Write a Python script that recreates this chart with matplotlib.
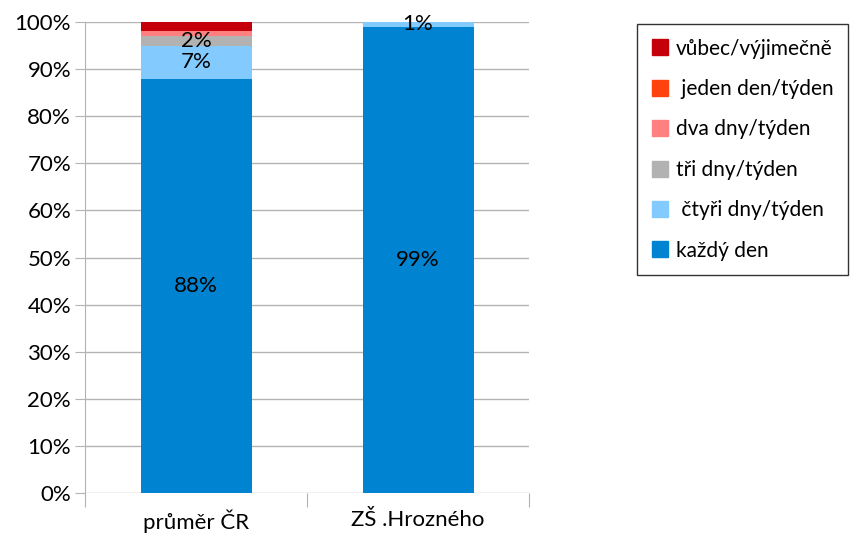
import numpy as np
import matplotlib.pyplot as plt
from matplotlib.patches import Patch

categories = ['průměr ČR', 'ZŠ .Hrozného']
series = ['každý den', ' čtyři dny/týden', 'tři dny/týden', 'dva dny/týden',
          ' jeden den/týden', 'vůbec/výjimečně']
values = {
    'každý den': [88, 99],
    ' čtyři dny/týden': [7, 1],
    'tři dny/týden': [2, 0],
    'dva dny/týden': [1, 0],
    ' jeden den/týden': [0, 0],
    'vůbec/výjimečně': [2, 0],
}
colors = ['#0084d1', '#83caff', '#b2b2b2', '#ff8080', '#ff420e', '#c5000b']
# which segments carry a value label
shown = {'každý den': [True, True], ' čtyři dny/týden': [True, True],
         'tři dny/týden': [True, False]}

plt.rcParams['font.family'] = ['Lato', 'DejaVu Sans']
fs = 16

fig = plt.figure(figsize=(8.57, 5.35), dpi=100)
ax = fig.add_axes([85 / 857, 42 / 535, 444 / 857, 471 / 535])

x = np.arange(len(categories))
bottom = np.zeros(len(categories))
for name, col in zip(series, colors):
    v = np.array(values[name], dtype=float)
    ax.bar(x, v, 0.5, bottom=bottom, color=col, zorder=2)
    for i in range(len(x)):
        if name in shown and shown[name][i] and v[i] > 0:
            ax.text(x[i], bottom[i] + v[i] / 2, f'{int(v[i])}%', ha='center',
                    va='center', fontsize=fs, color='black', zorder=3)
    bottom += v

ax.set_xlim(-0.5, 1.5)
ax.set_ylim(0, 100)
ax.set_yticks(range(0, 101, 10))
ax.set_yticklabels([f'{t}%' for t in range(0, 101, 10)], fontsize=fs)
ax.yaxis.grid(True, color='#b3b3b3', linewidth=1, zorder=0)
ax.set_xticks([-0.5, 0.5, 1.5], minor=False)
ax.set_xticklabels([])
ax.set_xticks(x, minor=True)
ax.set_xticklabels(categories, minor=True, fontsize=fs)
ax.tick_params(axis='x', which='minor', length=0, pad=12)
ax.tick_params(axis='x', which='major', length=10, color='#b3b3b3')
ax.tick_params(axis='y', length=7, color='#b3b3b3', pad=3)
for s in ['top', 'right', 'bottom']:
    ax.spines[s].set_visible(False)
ax.spines['left'].set_color('#b3b3b3')

handles = [Patch(color=c, label=n) for n, c in zip(series, colors)][::-1]
leg = fig.legend(handles=handles, loc='upper left',
                 bbox_to_anchor=(637 / 857, 1 - 24 / 535), fontsize=15,
                 frameon=True, fancybox=False, edgecolor='black',
                 handlelength=0.8, handleheight=0.8, labelspacing=0.98,
                 borderpad=0.7, handletextpad=0.35, borderaxespad=0)
leg.get_frame().set_linewidth(1)

fig.savefig('out.png', dpi=100)
